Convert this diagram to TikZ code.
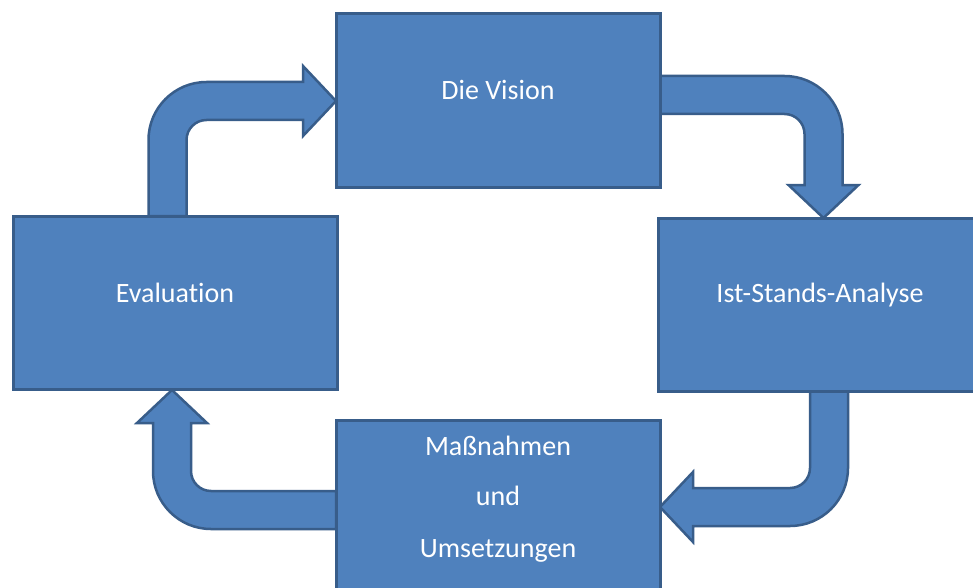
\documentclass[tikz,border=0pt]{standalone}
\usepackage{fontspec}
\setmainfont{Carlito}[Ligatures={NoCommon}]
\definecolor{boxfill}{HTML}{4F81BD}
\definecolor{boxline}{HTML}{385D8A}
\tikzset{
  box/.style={draw=boxline, fill=boxfill, line width=3pt, rectangle,
    minimum width=324pt, minimum height=173pt, inner sep=0pt},
  arrowstyle/.style={draw=boxline, fill=boxfill, line width=2.5pt, line join=miter},
  lbl/.style={text=white, anchor=base, inner sep=0pt, font=\fontsize{28}{34}\selectfont}
}
% bent arrow: #1 options, #2 length to bend (centre line), #3 length from bend to tip
\newcommand{\bendarrow}[3]{%
  \draw[arrowstyle,#1] (-19,0) -- (-19,#2-39) arc[start angle=180,end angle=90,radius=58pt]
    -- (#3-33,#2+19) -- (#3-33,#2+35) -- (#3,#2) -- (#3-33,#2-35) -- (#3-33,#2-19)
    -- (39,#2-19) arc[start angle=90,end angle=180,radius=20pt] -- (19,0) -- cycle;}
\begin{document}
\begin{tikzpicture}[x=1pt,y=1pt]
\useasboundingbox (0,0) rectangle (973,-588);
\fill[white] (0,0) rectangle (973,-588);
\clip (0,0) rectangle (973,-588);
% arrows
\bendarrow{shift={(167.5,-216)}}{115}{168.5}
\bendarrow{shift={(660,-95)},rotate=-90}{163.5}{123}
\bendarrow{shift={(829,-391)},rotate=180}{116}{169}
\bendarrow{shift={(336,-510)},rotate=90}{164}{120}
% boxes
\node[box] (vision) at (498,-100.5) {};
\node[box] (ist) at (820,-304.5) {};
\node[box] (eval) at (175,-302.5) {};
\node[box] (mass) at (498,-506.5) {};
% labels
\node[lbl] (tvision) at (498,-100) {Die Vision};
\node[lbl] (tist) at (820,-302) {Ist-Stands-Analyse};
\node[lbl] (teval) at (175,-302) {Evaluation};
\node[lbl] (tmass1) at (498,-455) {Maßnahmen};
\node[lbl] (tmass2) at (498,-505) {und};
\node[lbl] (tmass3) at (498,-557) {Umsetzungen};
\end{tikzpicture}
\end{document}
